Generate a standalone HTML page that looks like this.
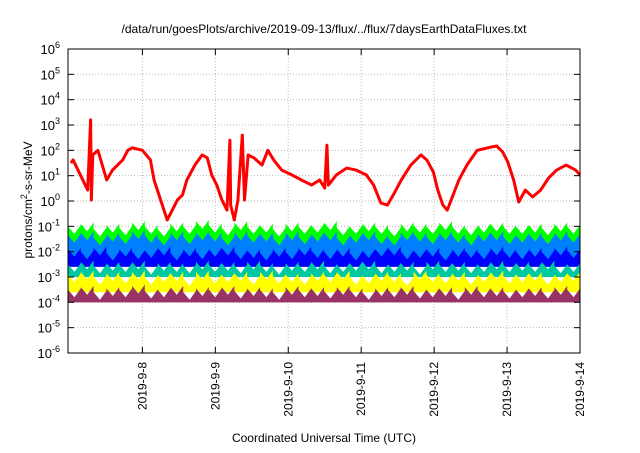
<!DOCTYPE html>
<html><head><meta charset="utf-8"><style>
body{margin:0;background:#fff;font-family:"Liberation Sans",sans-serif}
svg text{font-family:"Liberation Sans",sans-serif;fill:#000}
</style></head><body>
<svg width="640" height="448" id="c"></svg>
<script>
const tickDays=["2019-9-8","2019-9-9","2019-9-10","2019-9-11","2019-9-12","2019-9-13","2019-9-14"];
const yExp=[-6,-5,-4,-3,-2,-1,0,1,2,3,4,5,6];
const redT=[0.02,0.05,0.25,0.29,0.30,0.32,0.39,0.45,0.51,0.59,0.73,0.80,0.86,1.00,1.11,1.16,1.25,1.34,1.41,1.48,1.55,1.61,1.72,1.82,1.89,1.95,2.02,2.09,2.16,2.20,2.21,2.26,2.31,2.37,2.40,2.45,2.53,2.64,2.72,2.80,2.91,3.05,3.18,3.32,3.43,3.50,3.53,3.55,3.66,3.80,3.93,4.07,4.17,4.27,4.36,4.44,4.55,4.68,4.82,4.90,4.99,5.05,5.12,5.18,5.26,5.34,5.45,5.59,5.78,5.86,5.94,6.01,6.09,6.16,6.25,6.35,6.46,6.57,6.68,6.81,6.94,7.00];
const redLog=[1.5,1.62,0.43,3.2,0.04,1.82,2.0,1.42,0.83,1.22,1.62,2.0,2.1,2.0,1.62,0.83,0.04,-0.75,-0.36,0.04,0.24,0.83,1.42,1.82,1.70,1.03,0.63,0.04,-0.36,2.4,-0.16,-0.75,0.04,2.6,0.04,1.82,1.7,1.42,2.0,1.62,1.22,1.03,0.83,0.63,0.83,0.51,2.2,0.63,1.03,1.30,1.22,1.03,0.63,-0.08,-0.16,0.24,0.83,1.42,1.82,1.62,1.14,0.43,-0.16,-0.36,0.24,0.83,1.42,2.0,2.13,2.17,1.93,1.54,0.83,-0.04,0.43,0.16,0.43,0.91,1.22,1.42,1.22,1.03];
const greenTop=[-1.0,-0.9,-1.1,-0.95,-1.05,-0.85,-1.0,-1.1,-0.9,-1.0,-0.8,-0.95,-1.05,-0.85,-1.0,-0.95,-1.1,-0.9,-1.0,-0.95,-0.85,-1.05,-1.0,-0.9,-1.0,-1.1,-0.9,-0.95,-1.0,-0.85,-1.0,-1.05,-0.95,-0.9,-1.0,-1.0,-0.95,-1.05,-0.9,-1.0];
const lblueTop=[-1.35,-1.25,-1.45,-1.3,-1.4,-1.2,-1.35,-1.45,-1.25,-1.4,-1.25,-1.3,-1.45,-1.25,-1.35,-1.3,-1.45,-1.25,-1.4,-1.3,-1.25,-1.45,-1.35,-1.25,-1.4,-1.45,-1.25,-1.3,-1.4,-1.25,-1.35,-1.45,-1.3,-1.25,-1.4,-1.35,-1.3,-1.4,-1.25,-1.35];
const blueTop=[-1.9,-2.0,-1.85,-2.05,-1.9,-2.0,-1.95,-1.85,-2.05,-1.9,-2.0,-1.9,-1.85,-2.0,-1.95,-2.05,-1.9,-2.0,-1.85,-1.95,-2.0,-1.9,-2.05,-1.95,-1.9,-1.85,-2.0,-1.95,-1.9,-2.05,-1.9,-1.95,-2.0,-1.85,-1.95,-2.0,-1.9,-2.0,-1.85,-1.95];
const tealTop=[-2.5,-2.4,-2.55,-2.45,-2.5,-2.4,-2.6,-2.45,-2.5,-2.55,-2.4,-2.5,-2.45,-2.55,-2.4,-2.5,-2.6,-2.45,-2.5,-2.4,-2.55,-2.5,-2.45,-2.4,-2.55,-2.5,-2.45,-2.6,-2.4,-2.5,-2.45,-2.55,-2.5,-2.4,-2.5,-2.45,-2.5,-2.4,-2.55,-2.5];
const yellowTop=[-2.9,-2.8,-3.0,-2.85,-2.95,-2.8,-3.0,-2.9,-2.85,-3.05,-2.8,-2.95,-2.9,-2.85,-3.0,-2.8,-2.95,-2.9,-3.0,-2.85,-2.9,-2.8,-3.0,-2.95,-2.85,-2.9,-3.05,-2.8,-2.9,-2.95,-2.85,-3.0,-2.9,-2.8,-2.95,-2.9,-2.85,-3.0,-2.9,-2.85];
const maroonTop=[-3.5,-3.4,-3.6,-3.45,-3.5,-3.35,-3.55,-3.5,-3.4,-3.6,-3.45,-3.5,-3.4,-3.55,-3.45,-3.5,-3.6,-3.4,-3.5,-3.45,-3.55,-3.4,-3.5,-3.6,-3.45,-3.5,-3.4,-3.55,-3.5,-3.45,-3.6,-3.4,-3.5,-3.45,-3.55,-3.5,-3.45,-3.55,-3.4,-3.5];
const L=68,R=580,T=49,B=353,D0=-0.02;
const X=t=>L+(t-D0)*(R-L)/(7-D0);
const Y=e=>T+(6-e)*(B-T)/12;
const NS="http://www.w3.org/2000/svg",svg=document.getElementById("c");
function mk(tag,attrs,parent){const e=document.createElementNS(NS,tag);for(const k in attrs)e.setAttribute(k,attrs[k]);(parent||svg).appendChild(e);return e;}
yExp.forEach((e,i)=>{if(i>0&&i<yExp.length-1){const g=mk("line",{x1:L,x2:R,y1:Y(e),y2:Y(e),stroke:"#bbb","stroke-dasharray":"1,2"});}});
tickDays.forEach((d,i)=>{const x=X(i+1);if(i<tickDays.length-1){const g=mk("line",{x1:x,x2:x,y1:T,y2:B,stroke:"#bbb","stroke-dasharray":"1,2"});}});
function band(top,bot,color,name){const n=top.length;let p=[];
for(let i=0;i<n;i++){const t0=D0+(7-D0)*i/n,t1=D0+(7-D0)*(i+1)/n;p.push(X(t0)+","+Y(top[i]));p.push(X((t0+t1)/2)+","+Y(top[i]-0.3));p.push(X(t1)+","+Y(top[i]+0.05));}
p.push(X(7)+","+Y(bot));p.push(X(D0)+","+Y(bot));
const e=mk("polygon",{points:p.join(" "),fill:color});}
band(greenTop,-2.3,"#00ff00","series-green");
band(lblueTop,-2.4,"#0080ff","series-lightblue");
band(blueTop,-2.6,"#0000ff","series-blue");
band(tealTop,-3.0,"#00c8a0","series-teal");
band(yellowTop,-3.6,"#ffff00","series-yellow");
band(maroonTop,-4.0,"#993366","series-maroon");
const rp=redT.map((t,i)=>X(t)+","+Y(redLog[i])).join(" ");
const rl=mk("polyline",{points:rp,fill:"none",stroke:"#ff0000","stroke-width":3,"stroke-linejoin":"round"});

const fr=mk("rect",{x:L,y:T,width:R-L,height:B-T,fill:"none",stroke:"#000"});
yExp.forEach(e=>{const y=Y(e);mk("line",{x1:L,x2:L+6,y1:y,y2:y,stroke:"#000"});mk("line",{x1:R,x2:R-6,y1:y,y2:y,stroke:"#000"});
const tx=mk("text",{x:L-8,y:y+5,"text-anchor":"end","font-size":"13"});
tx.textContent="10";const s=mk("tspan",{dy:"-6","font-size":"9"},tx);s.textContent=String(e);});
tickDays.forEach((d,i)=>{const x=X(i+1);mk("line",{x1:x,x2:x,y1:B,y2:B-6,stroke:"#000"});mk("line",{x1:x,x2:x,y1:T,y2:T+6,stroke:"#000"});
const tx=mk("text",{x:0,y:0,"text-anchor":"end","font-size":"12",transform:`translate(${x+4},${B+9}) rotate(-90)`});tx.textContent=d;});
const tt=mk("text",{x:324,y:33,"text-anchor":"middle","font-size":"12"});tt.textContent="/data/run/goesPlots/archive/2019-09-13/flux/../flux/7daysEarthDataFluxes.txt";
const xt=mk("text",{x:324,y:442,"text-anchor":"middle","font-size":"12"});xt.textContent="Coordinated Universal Time (UTC)";
const yt=mk("text",{x:0,y:0,"text-anchor":"middle","font-size":"12",transform:"translate(32,200) rotate(-90)"});
yt.textContent="protons/cm";const s2=mk("tspan",{dy:"-5","font-size":"9"},yt);s2.textContent="2";const s3=mk("tspan",{dy:"5"},yt);s3.textContent="-s-sr-MeV";
</script></body></html>
